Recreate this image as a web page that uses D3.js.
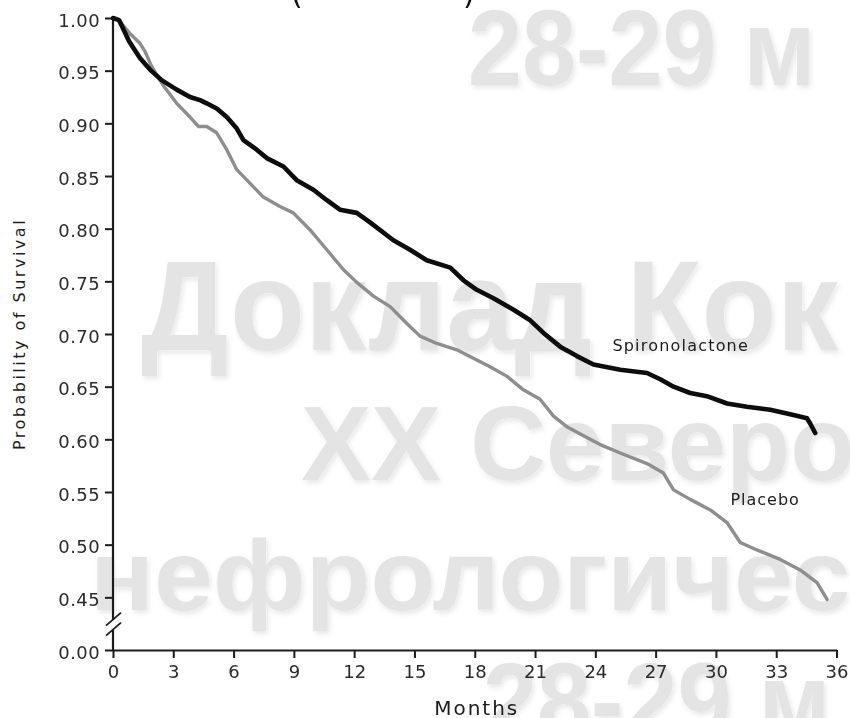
<!DOCTYPE html>
<html>
<head>
<meta charset="utf-8">
<script src="https://cdn.jsdelivr.net/npm/d3@7"></script>
<style>
  html, body { margin: 0; padding: 0; background: #fff; }
  svg { display: block; }
</style>
</head>
<body>
<svg id="chart" width="850" height="718"></svg>
<script>
// ---- data ----------------------------------------------------------------
const xTickValues = [0, 3, 6, 9, 12, 15, 18, 21, 24, 27, 30, 33, 36];
const yTickValues = [0.00, 0.45, 0.50, 0.55, 0.60, 0.65, 0.70, 0.75, 0.80, 0.85, 0.90, 0.95, 1.00];

// [month, probability of survival]
const spironolactone = [
  [0, 1.000], [0.3, 0.998], [0.5, 0.990], [0.8, 0.978], [1.0, 0.972], [1.34, 0.962],
  [1.84, 0.951], [2.42, 0.941], [3.17, 0.932], [3.83, 0.925], [4.33, 0.922], [4.66, 0.919],
  [5.16, 0.914], [5.66, 0.906], [6.16, 0.895], [6.49, 0.884], [7.15, 0.875], [7.65, 0.867],
  [8.48, 0.859], [9.14, 0.846], [9.97, 0.837], [10.64, 0.827], [11.29, 0.818], [12.13, 0.815],
  [12.79, 0.806], [13.95, 0.789], [14.78, 0.780], [15.61, 0.770], [16.78, 0.763], [17.44, 0.751],
  [18.10, 0.742], [18.93, 0.734], [19.93, 0.723], [20.76, 0.713], [21.42, 0.701], [22.25, 0.688],
  [23.08, 0.679], [23.91, 0.671], [25.24, 0.666], [26.57, 0.663], [27.23, 0.657], [27.89, 0.650],
  [28.72, 0.644], [29.55, 0.641], [30.55, 0.634], [31.54, 0.631], [32.70, 0.628], [33.86, 0.623],
  [34.53, 0.620], [34.69, 0.615], [34.94, 0.606]
];

const placebo = [
  [0, 1.000], [0.3, 0.998], [0.5, 0.993], [0.9, 0.984], [1.34, 0.976], [1.6, 0.968],
  [1.9, 0.955], [2.2, 0.945], [2.5, 0.936], [3.17, 0.919], [3.83, 0.906], [4.25, 0.897],
  [4.66, 0.897], [5.16, 0.891], [5.66, 0.875], [6.16, 0.856], [6.82, 0.843], [7.48, 0.830],
  [8.31, 0.821], [8.97, 0.815], [9.80, 0.799], [10.64, 0.780], [11.47, 0.761], [12.13, 0.749],
  [12.96, 0.736], [13.79, 0.726], [14.62, 0.710], [15.28, 0.698], [16.11, 0.691], [17.11, 0.685],
  [17.93, 0.677], [18.76, 0.669], [19.59, 0.660], [20.42, 0.647], [21.25, 0.638], [21.92, 0.622],
  [22.58, 0.612], [23.25, 0.605], [24.24, 0.595], [25.24, 0.587], [26.57, 0.577], [27.39, 0.568],
  [27.89, 0.552], [28.72, 0.543], [29.72, 0.533], [30.55, 0.521], [31.21, 0.502], [32.04, 0.495],
  [33.20, 0.486], [34.19, 0.476], [35.03, 0.464], [35.53, 0.448]
];

const seriesNames = ["Spironolactone", "Placebo"];
const xTitle = "Months";
const yTitle = "Probability of Survival";
const watermarkLines = ["28-29 м", "Доклад Кок", "XX Северо", "нефрологичес", "28-29 м"];

// ---- layout --------------------------------------------------------------
const plot = { left: 113, top: 18, right: 836.5, bottom: 650 };
const labelFont = "'DejaVu Sans', 'Liberation Sans', Arial, sans-serif";
const watermarkLayout = [
  { x: 468, y: 85,  size: 108, sx: 0.9 },
  { x: 141, y: 350, size: 128, sx: 0.96 },
  { x: 301, y: 480, size: 105, sx: 1.0 },
  { x: 90,  y: 610, size: 100, sx: 1.06 },
  { x: 483, y: 738, size: 108, sx: 0.9 }
];

const svg = d3.select("#chart");

// soft shadow under the background lettering
const defs = svg.append("defs");
const f = defs.append("filter").attr("id", "wmShadow")
  .attr("x", "-5%").attr("y", "-10%").attr("width", "110%").attr("height", "130%");
f.append("feDropShadow").attr("dx", 2).attr("dy", 3).attr("stdDeviation", 2.5)
  .attr("flood-color", "#000").attr("flood-opacity", 0.09);

// ---- scales --------------------------------------------------------------
const x = d3.scaleLinear().domain([0, 36]).range([plot.left, plot.right]);
// the 0.00–0.40 stretch is collapsed so the 0.00 baseline sits one step below 0.45
const y = d3.scaleLinear().domain([0, 0.40, 1.00]).range([plot.bottom, plot.bottom, plot.top]);

// ---- background lettering ------------------------------------------------
svg.append("g").attr("filter", "url(#wmShadow)")
  .selectAll("text").data(watermarkLines).join("text")
  .attr("transform", (d, i) => {
    const l = watermarkLayout[i];
    return `translate(${l.x},${l.y}) scale(${l.sx},1)`;
  })
  .attr("font-size", (d, i) => watermarkLayout[i].size)
  .attr("font-family", "'Liberation Sans', Arial, sans-serif")
  .attr("font-weight", "bold")
  .attr("fill", "#e4e4e4")
  .text(d => d);

// clipped title parentheses along the top edge
svg.append("text").attr("x", 291).attr("y", 4).attr("font-size", 30)
  .attr("font-family", labelFont).attr("fill", "#111").text("(");
svg.append("text").attr("x", 463).attr("y", 4).attr("font-size", 30)
  .attr("font-family", labelFont).attr("fill", "#111").text(")");

// ---- axes ----------------------------------------------------------------
const axisColor = "#1c1c1c";

const gx = svg.append("g")
  .attr("transform", `translate(0,${plot.bottom})`)
  .call(d3.axisBottom(x).tickValues(xTickValues).tickSize(8).tickSizeOuter(0).tickFormat(d3.format("d")));
gx.select(".domain").attr("stroke", axisColor).attr("stroke-width", 2.2);
gx.selectAll(".tick line").attr("stroke", axisColor).attr("stroke-width", 2);
gx.selectAll(".tick text")
  .attr("y", 28).attr("dy", 0)
  .attr("font-family", labelFont).attr("font-size", 18).attr("fill", "#2a2a2a");

const gy = svg.append("g")
  .attr("transform", `translate(${plot.left},0)`)
  .call(d3.axisLeft(y).tickValues(yTickValues).tickSize(8).tickSizeOuter(0).tickFormat(d3.format(".2f")));
gy.select(".domain").remove();
gy.selectAll(".tick line").attr("stroke", axisColor).attr("stroke-width", 2);
gy.selectAll(".tick text")
  .attr("x", -13).attr("dy", "0.45em")
  .attr("font-family", labelFont).attr("font-size", 18).attr("fill", "#2a2a2a")
  .attr("letter-spacing", 0.4);

// vertical axis with a break between 0.00 and 0.45
const yBreak = (y(0) + y(0.45)) / 2 + 1;
const gap = 5;
const axisG = svg.append("g").attr("stroke", axisColor).attr("stroke-width", 2.2).attr("fill", "none");
axisG.append("line").attr("x1", plot.left).attr("x2", plot.left).attr("y1", y(1)).attr("y2", yBreak - gap);
axisG.append("line").attr("x1", plot.left).attr("x2", plot.left).attr("y1", yBreak + gap).attr("y2", y(0));
[-gap, gap].forEach(off => {
  axisG.append("line")
    .attr("x1", plot.left - 7).attr("y1", yBreak + off + 6)
    .attr("x2", plot.left + 8).attr("y2", yBreak + off - 7)
    .attr("stroke-width", 1.8);
});

// axis titles
svg.append("text")
  .attr("x", (plot.left + plot.right) / 2 + 2).attr("y", 715)
  .attr("text-anchor", "middle")
  .attr("font-family", labelFont).attr("font-size", 20).attr("letter-spacing", 2)
  .attr("fill", "#1c1c1c").text(xTitle);

svg.append("text")
  .attr("transform", `translate(25,${(y(1) + y(0)) / 2}) rotate(-90)`)
  .attr("text-anchor", "middle")
  .attr("font-family", labelFont).attr("font-size", 16).attr("letter-spacing", 2.5)
  .attr("fill", "#1c1c1c").text(yTitle);

// ---- survival curves -----------------------------------------------------
const line = d3.line().x(d => x(d[0])).y(d => y(d[1]));

svg.append("path").datum(placebo)
  .attr("d", line).attr("fill", "none")
  .attr("stroke", "#8e8e8e").attr("stroke-width", 3.4)
  .attr("stroke-linejoin", "round").attr("stroke-linecap", "round");

svg.append("path").datum(spironolactone)
  .attr("d", line).attr("fill", "none")
  .attr("stroke", "#0d0d0d").attr("stroke-width", 4.6)
  .attr("stroke-linejoin", "round").attr("stroke-linecap", "round");

// curve labels
svg.append("text")
  .attr("x", x(24.85)).attr("y", y(0.6835))
  .attr("font-family", labelFont).attr("font-size", 16).attr("letter-spacing", 1.2)
  .attr("fill", "#1c1c1c").text(seriesNames[0]);

svg.append("text")
  .attr("x", x(30.72)).attr("y", y(0.5373))
  .attr("font-family", labelFont).attr("font-size", 16).attr("letter-spacing", 1)
  .attr("fill", "#1c1c1c").text(seriesNames[1]);
</script>
</body>
</html>
